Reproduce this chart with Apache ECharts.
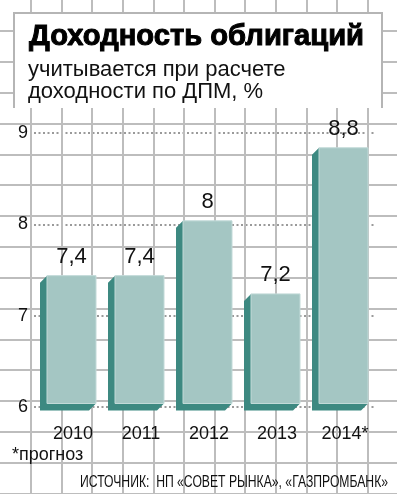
<!DOCTYPE html>
<html>
<head>
<meta charset="utf-8">
<script src="https://cdn.jsdelivr.net/npm/echarts@6/dist/echarts.min.js"></script>
<style>
html, body { margin: 0; padding: 0; background: #fff; }
#main { width: 397px; height: 494px; }
</style>
</head>
<body>
<div id="main"></div>
<script>
// данные
var years = ['2010', '2011', '2012', '2013', '2014*'];
var yields = [7.4, 7.4, 8, 7.2, 8.8];
var yMin = 6, yMax = 9, yStep = 1;

var regular = '"Liberation Sans", Arial, sans-serif';

var chart = echarts.init(document.getElementById('main'));

// подгоняем ширину строки под оригинал
var ctx = document.createElement('canvas').getContext('2d');
function fitScale(text, font, width) {
	ctx.font = font;
	return width / ctx.measureText(text).width;
}

// трёхмерный столбик: тёмная грань сзади-слева, светлая передняя
function renderBar(params, api) {
	var i = api.value(0), v = api.value(1);
	var top = api.coord([i, v]);
	var base = api.coord([i, yMin]);
	var k = api.size([1, 0])[0] / 68;
	var cx = top[0];
	var d = 7 * k;
	var x0 = cx - 21 * k, x1 = cx + 28 * k;
	var y0 = top[1] - 3.5, y1 = base[1] - 3.5;
	return {
		type: 'group',
		children: [
			{
				type: 'polygon',
				shape: { points: [[x0, y0], [x0 - d, y0 + d], [x0 - d, y1 + d], [x1 - d, y1 + d], [x1, y1], [x0, y1]] },
				style: { fill: '#3d8981' }
			},
			{
				type: 'rect',
				shape: { x: x0, y: y0, width: x1 - x0, height: y1 - y0 },
				style: { fill: '#a4c6c3', stroke: '#c2dad8', lineWidth: 1 }
			},
			{
				type: 'text',
				x: cx + 3.5,
				y: top[1] - 22,
				style: {
					text: String(v).replace('.', ','),
					fontSize: 22,
					fontFamily: regular,
					fill: '#111',
					align: 'center',
					verticalAlign: 'middle'
				}
			}
		]
	};
}

var titleText = 'Доходность облигаций';
var sourceText = 'ИСТОЧНИК:  НП «СОВЕТ РЫНКА», «ГАЗПРОМБАНК»';
var titleScale = fitScale(titleText, 'bold 29px ' + regular, 335);
var sourceScale = fitScale(sourceText, '17px ' + regular, 308);

var option = {
	animation: false,
	grid: [
		{ left: 0, right: 0, top: 0, bottom: 0 },
		{ left: 34, right: 23, top: 133, bottom: 87 }
	],
	xAxis: [
		{
			gridIndex: 0, type: 'value', min: 0, max: 397 / 30.65, interval: 1,
			axisLine: { show: false }, axisTick: { show: false }, axisLabel: { show: false },
			splitLine: { show: true, showMinLine: false, showMaxLine: false, lineStyle: { color: '#bdbdbd', width: 2 } }
		},
		{
			gridIndex: 1, type: 'category', data: years,
			axisLine: { show: false }, axisTick: { show: false },
			axisLabel: { interval: 0, hideOverlap: false, margin: 18, fontSize: 18, fontFamily: regular, color: '#111', padding: [0, 0, 0, 10] }
		}
	],
	yAxis: [
		{
			gridIndex: 0, type: 'value', inverse: true, min: 0, max: 494 / 30.85, interval: 1,
			axisLine: { show: false }, axisTick: { show: false }, axisLabel: { show: false },
			splitLine: { show: true, showMinLine: false, showMaxLine: false, lineStyle: { color: '#bdbdbd', width: 2 } }
		},
		{
			gridIndex: 1, type: 'value', min: yMin, max: yMax, interval: yStep,
			axisLine: { show: false }, axisTick: { show: false },
			axisLabel: { margin: 6, fontSize: 18, fontFamily: regular, color: '#111' },
			splitLine: { show: true, lineStyle: { color: '#9a9a9a', width: 2, type: [2, 2.5] } }
		}
	],
	graphic: [
		{
			type: 'rect', z: 5,
			shape: { x: 14, y: 13, width: 368, height: 95 },
			style: { fill: '#fff' }
		},
		{
			type: 'polyline', z: 6,
			shape: { points: [[14, 108], [14, 13], [382, 13], [382, 108]] },
			style: { stroke: '#b5b5b5', lineWidth: 2, fill: null }
		},
		{
			type: 'text', z: 7, x: 29, y: 37, scaleX: titleScale,
			style: { text: titleText, fontSize: 29, fontWeight: 'bold', fontFamily: regular, fill: '#000', stroke: '#000', lineWidth: 1, verticalAlign: 'middle' }
		},
		{
			type: 'text', z: 7, x: 28, y: 70,
			style: { text: 'учитывается при расчете', fontSize: 22, fontFamily: regular, fill: '#111', verticalAlign: 'middle' }
		},
		{
			type: 'text', z: 7, x: 28, y: 92,
			style: { text: 'доходности по ДПМ, %', fontSize: 22, fontFamily: regular, fill: '#111', verticalAlign: 'middle' }
		},
		{
			type: 'text', z: 7, x: 12, y: 455,
			style: { text: '*прогноз', fontSize: 18, fontFamily: regular, fill: '#111', verticalAlign: 'middle' }
		},
		{
			type: 'text', z: 7, x: 80, y: 482, scaleX: sourceScale,
			style: { text: sourceText, fontSize: 17, fontFamily: regular, fill: '#111', verticalAlign: 'middle' }
		}
	],
	series: [
		{
			type: 'custom',
			xAxisIndex: 1,
			yAxisIndex: 1,
			renderItem: renderBar,
			encode: { x: 0, y: 1 },
			clip: false,
			data: yields.map(function (v, i) { return [i, v]; })
		}
	]
};
chart.setOption(option);
</script>
</body>
</html>
